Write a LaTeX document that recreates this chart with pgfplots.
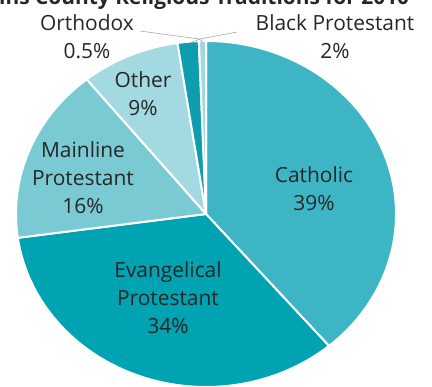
\documentclass[border=0pt]{standalone}
\usepackage{pgfplots}
\pgfplotsset{compat=1.18}
\usepackage{pgfplotstable}
\usepackage{fontspec}
\setmainfont{Open Sans}
\definecolor{cCath}{HTML}{3DB5C5}
\definecolor{cEvan}{HTML}{00A3B2}
\definecolor{cMain}{HTML}{7ACAD4}
\definecolor{cOther}{HTML}{A3DAE2}
\definecolor{cBlack}{HTML}{0E9DAE}
\definecolor{cOrth}{HTML}{9FD8E0}
\definecolor{txt}{HTML}{262626}
% share of each tradition (percent), in drawing order clockwise from 12 o'clock
\pgfplotstableread{
name   start  end
Cath   0.0    38.8
Evan   38.8   72.8
Main   72.8   89.2
Other  89.2   97.6
Black  97.6   99.4
Orth   99.4   100.0
}\shares
\newcommand{\cx}{206}
\newcommand{\cy}{173}
\newcommand{\rx}{190}
\newcommand{\ry}{173}
\newcommand{\slice}[2]{%
  \pgfplotstablegetelem{#1}{start}\of\shares \let\sA\pgfplotsretval
  \pgfplotstablegetelem{#1}{end}\of\shares \let\sB\pgfplotsretval
  \addplot[fill=#2, draw=white, line width=2pt, line join=round,
    variable=\t, samples at={-1,0,...,80,81}]
    ({(\t<0 || \t>80) ? \cx : \cx+\rx*cos(90-3.6*(\sA+(\t/80)*(\sB-\sA)))},
     {(\t<0 || \t>80) ? \cy : \cy+\ry*sin(90-3.6*(\sA+(\t/80)*(\sB-\sA)))});
}
\begin{document}
\begin{tikzpicture}[x=1bp,y=1bp]
\useasboundingbox (0,0) rectangle (432,387);
\begin{axis}[at={(0,0)}, anchor=south west, scale only axis,
  width=432bp, height=387bp, xmin=0, xmax=432, ymin=0, ymax=387,
  hide axis, clip=false]
\slice{0}{cCath}
\slice{1}{cEvan}
\slice{2}{cMain}
\slice{3}{cOther}
\slice{4}{cBlack}
\slice{5}{cOrth}
% leader lines
\addplot[color=black!35, line width=0.6pt] coordinates {(140,356) (199,348) (203,345)};
\addplot[color=black!35, line width=0.6pt] coordinates {(237,355) (200,348) (190,344)};
\begin{scope}[every node/.style={align=center, text=txt, font=\fontsize{21}{28}\selectfont}]
\node at (axis cs:314,198) {Catholic\\39\%};
\node at (axis cs:168,89) {Evangelical\\Protestant\\34\%};
\node at (axis cs:83,209) {Mainline\\Protestant\\16\%};
\node at (axis cs:143,293) {Other\\9\%};
\node at (axis cs:87,350) {Orthodox\\0.5\%};
\node at (axis cs:335,350) {Black Protestant\\2\%};
\end{scope}
\end{axis}
\node[anchor=base west, inner sep=0pt, text=txt, font=\fontsize{21}{25}\selectfont\bfseries] at (-1,382.5) {\llap{Hopk}ins County Religious Traditions for 2010};
\end{tikzpicture}
\end{document}
